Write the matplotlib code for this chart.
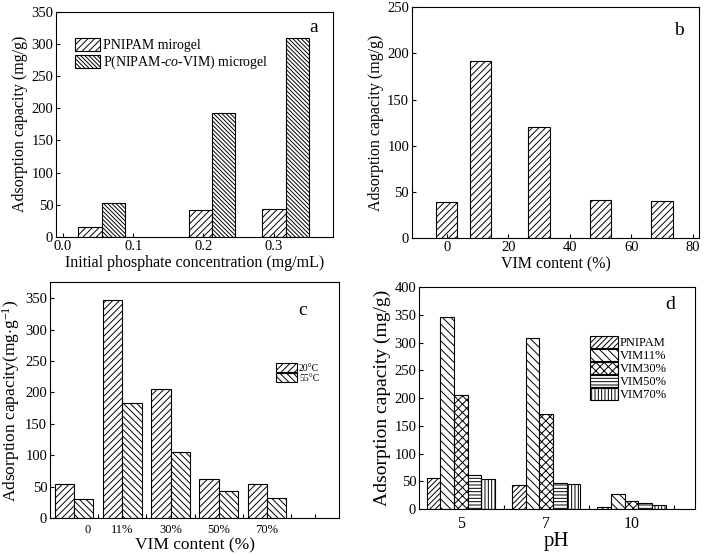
import numpy as np
import matplotlib
matplotlib.use("Agg")
import matplotlib.pyplot as plt

plt.rcParams['font.family'] = ['Liberation Serif', 'DejaVu Serif']
plt.rcParams['mathtext.fontset'] = 'custom'
plt.rcParams['mathtext.rm'] = 'Liberation Serif'
plt.rcParams['mathtext.it'] = 'Liberation Serif:italic'
plt.rcParams['hatch.linewidth'] = 0.7
plt.rcParams['xtick.direction'] = 'in'
plt.rcParams['ytick.direction'] = 'in'

# (a) adsorption vs initial phosphate concentration
conc_x = [0.055, 0.212, 0.317]
pnipam_a = [15, 41, 44]
covim_a = [53, 193, 309]

# (b) adsorption vs VIM content
vim_b = [0, 11, 30, 50, 70]
ads_b = [39, 192, 120, 41, 40]

# (c) two temperatures
labels_c = ['0', '11%', '30%', '50%', '70%']
t20_c = [55, 347, 205, 62, 54]
t55_c = [30, 183, 105, 44, 32]

# (d) pH dependence
ph_labels = ['5', '7', '10']
series_d = {
    'PNIPAM': [56, 44, 4],
    'VIM11%': [346, 308, 27],
    'VIM30%': [205, 171, 14],
    'VIM50%': [62, 47, 11],
    'VIM70%': [54, 45, 8],
}
hatch_d = ['//////', '\\\\\\\\', 'xxxx', '-----', '|||||']

fig = plt.figure(figsize=(7.09, 5.56), dpi=100)
tick_fs = 10.5
lab_fs = 11.5

# ---- a
ax = fig.add_axes([0.079, 0.574, 0.391, 0.405])
w = 0.033
ax.bar(np.array(conc_x) - w/2, pnipam_a, w, facecolor='white', edgecolor='black',
       hatch='/////', lw=0.8, label='PNIPAM mirogel')
ax.bar(np.array(conc_x) + w/2, covim_a, w, facecolor='white', edgecolor='black',
       hatch='\\' * 8, lw=0.8, label='P(NIPAM-$\\it{co}$-VIM) microgel')
ax.set_xlim(-0.01, 0.385)
ax.set_ylim(0, 350)
ax.set_xticks([0.0, 0.1, 0.2, 0.3])
ax.set_xticklabels(['0.0', '0.1', '0.2', '0.3'])
ax.set_yticks(range(0, 351, 50))
ax.set_xlabel('Initial phosphate concentration (mg/mL)', fontsize=lab_fs, labelpad=2)
ax.set_ylabel('Adsorption capacity (mg/g)', fontsize=lab_fs, labelpad=2)
ax.tick_params(labelsize=tick_fs, length=3, pad=2)
ax.legend(loc='upper left', bbox_to_anchor=(0.069, 0.885), frameon=False, fontsize=10,
          handlelength=1.8, handleheight=1.1, labelspacing=0.15, borderaxespad=0,
          borderpad=0, handletextpad=0.2)
ax.text(0.93, 0.93, 'a', transform=ax.transAxes, fontsize=14, ha='center', va='center')

# ---- b
ax = fig.add_axes([0.581, 0.572, 0.405, 0.415])
ax.bar(vim_b, ads_b, 7, facecolor='white', edgecolor='black', hatch='/////', lw=0.8)
ax.set_xlim(-11.3, 82)
ax.set_ylim(0, 250)
ax.set_xticks(range(0, 81, 20))
ax.set_yticks(range(0, 251, 50))
ax.set_xlabel('VIM content (%)', fontsize=lab_fs, labelpad=2)
ax.set_ylabel('Adsorption capacity (mg/g)', fontsize=lab_fs, labelpad=2)
ax.tick_params(labelsize=tick_fs, length=3, pad=2)
ax.text(0.93, 0.9, 'b', transform=ax.transAxes, fontsize=14, ha='center', va='center')

# ---- c
ax = fig.add_axes([0.0705, 0.068, 0.408, 0.424])
xc = np.arange(len(labels_c))
wc = 0.4
ax.bar(xc - wc/2, t20_c, wc, facecolor='white', edgecolor='black', hatch='/////', lw=0.8,
       label='20°C')
ax.bar(xc + wc/2, t55_c, wc, facecolor='white', edgecolor='black', hatch='\\\\\\\\\\', lw=0.8,
       label='55°C')
ax.set_xlim(-0.5, 5.5)
ax.set_ylim(0, 375)
ax.set_yticks(range(0, 351, 50))
ax.set_xticks([0.5, 1.5, 2.5, 3.5, 4.5, 5.0])
ax.set_xticklabels([])
ax.set_xticks([0.28, 1, 2, 3, 4], minor=True)
ax.set_xticklabels(labels_c, minor=True)
ax.tick_params(axis='x', which='minor', length=0, labelsize=9, pad=4)
ax.tick_params(axis='x', which='major', length=3)
ax.tick_params(axis='y', labelsize=tick_fs, length=3, pad=2)
ax.set_xlabel('VIM content (%)', fontsize=12.5, labelpad=1)
ax.set_ylabel('Adsorption capacity(mg$\\cdot$g$^{-1}$)', fontsize=lab_fs + 1, labelpad=2)
ax.legend(loc='upper left', bbox_to_anchor=(0.78, 0.66), frameon=False, fontsize=7,
          handlelength=2.2, handleheight=1.1, labelspacing=0.0, borderaxespad=0,
          borderpad=0, handletextpad=0.2)
ax.text(0.875, 0.88, 'c', transform=ax.transAxes, fontsize=14, ha='center', va='center')

# ---- d
ax = fig.add_axes([0.591, 0.0845, 0.389, 0.399])
xd = np.arange(len(ph_labels))
wd = 0.16
for i, (name, vals) in enumerate(series_d.items()):
    ax.bar(xd + (i - 2) * wd, vals, wd, facecolor='white', edgecolor='black',
           hatch=hatch_d[i], lw=0.8, label=name)
ax.set_xlim(-0.49, 2.74)
ax.set_ylim(0, 400)
ax.set_yticks(range(0, 401, 50))
ax.set_xticks([0.5, 1.5, 2.5])
ax.set_xticklabels([])
ax.set_xticks(xd, minor=True)
ax.set_xticklabels(ph_labels, minor=True)
ax.tick_params(axis='x', which='minor', length=0, labelsize=tick_fs + 1, pad=5)
ax.tick_params(axis='x', which='major', length=3)
ax.tick_params(axis='y', labelsize=tick_fs, length=3, pad=2)
ax.set_xlabel('pH', fontsize=15, labelpad=0)
ax.set_ylabel('Adsorption capacity (mg/g)', fontsize=14, labelpad=2)
ax.legend(loc='upper left', bbox_to_anchor=(0.62, 0.78), frameon=False, fontsize=9,
          handlelength=2.2, handleheight=1.05, labelspacing=0.0, borderaxespad=0,
          borderpad=0, handletextpad=0.2)
ax.text(0.91, 0.92, 'd', transform=ax.transAxes, fontsize=14, ha='center', va='center')

fig.savefig('out.png', dpi=100)
